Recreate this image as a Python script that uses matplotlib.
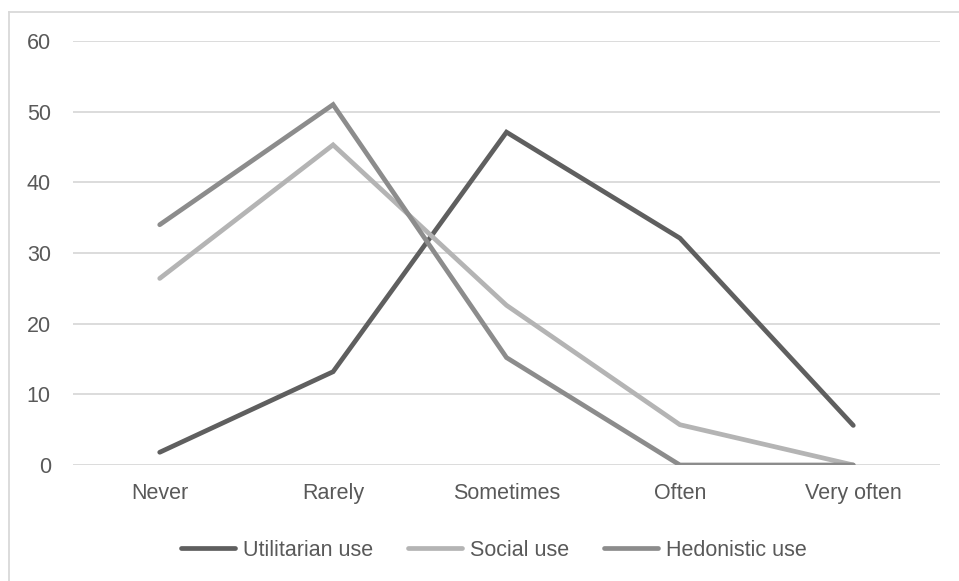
import matplotlib.pyplot as plt
from matplotlib.lines import Line2D

# Frequency categories and percentage of respondents per type of use
kategorie = ['Never', 'Rarely', 'Sometimes', 'Often', 'Very often']
utilitarian = [1.8, 13.2, 47.1, 32.1, 5.6]
social = [26.4, 45.3, 22.6, 5.7, 0.0]
hedonistic = [34.0, 51.0, 15.2, 0.0, 0.0]
y_ticks = [0, 10, 20, 30, 40, 50, 60]

plt.rcParams['font.family'] = ['Liberation Sans', 'DejaVu Sans']
kolor_tekstu = '#595959'
rozmiar = 15.5

W, H = 959, 581
fig = plt.figure(figsize=(W / 100, H / 100), dpi=100)
ax = fig.add_axes([73 / W, 1 - 465 / H, (940 - 73) / W, (465 - 41) / H])

x = range(len(kategorie))
serie = [
    (utilitarian, 'Utilitarian use', '#5f5f5f'),
    (social, 'Social use', '#b4b4b4'),
    (hedonistic, 'Hedonistic use', '#8c8c8c'),
]
for dane, nazwa, kolor in serie:
    ax.plot(x, dane, color=kolor, lw=3.4, label=nazwa,
            solid_capstyle='round', solid_joinstyle='miter', zorder=3)

ax.set_xlim(-0.5, len(kategorie) - 0.5)
ax.set_ylim(0, 60)
ax.set_yticks(y_ticks)
ax.set_xticks(list(x))
ax.set_xticklabels(kategorie)
ax.grid(axis='y', color='#d9d9d9', lw=1.3)
ax.set_axisbelow(True)
for s in ax.spines.values():
    s.set_visible(False)
ax.tick_params(length=0, labelsize=rozmiar, colors=kolor_tekstu)
ax.tick_params(axis='x', pad=13)
ax.tick_params(axis='y', pad=16)

leg = fig.legend(loc='center', bbox_to_anchor=(494 / W, 1 - 550 / H), ncol=3,
                 frameon=False, fontsize=rozmiar, handlelength=2.5,
                 handletextpad=0.4, columnspacing=1.6)
for t in leg.get_texts():
    t.set_color(kolor_tekstu)

# Outer chart frame (only the left and top edges are visible)
fig.add_artist(Line2D([9 / W, 9 / W], [0, 1 - 12 / H], color='#d9d9d9', lw=1.3))
fig.add_artist(Line2D([9 / W, 1], [1 - 12 / H, 1 - 12 / H], color='#d9d9d9', lw=1.3))

fig.savefig('out.png', dpi=100)
